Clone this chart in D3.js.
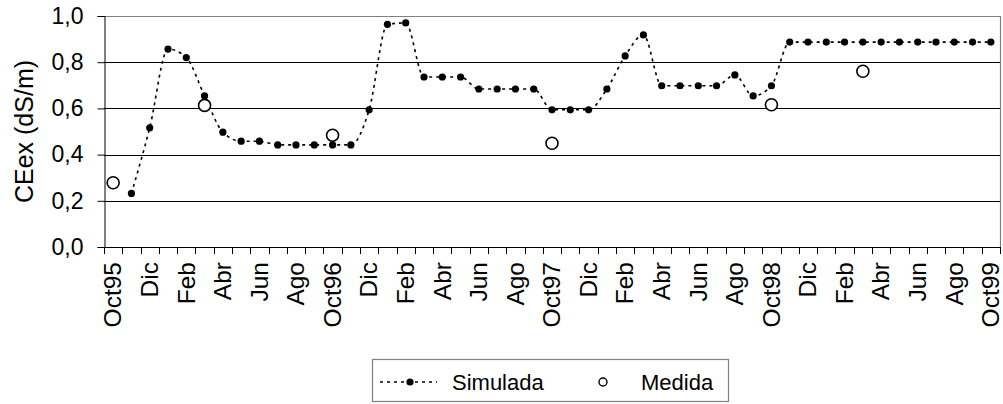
<!DOCTYPE html>
<html>
<head>
<meta charset="utf-8">
<script src="https://cdn.jsdelivr.net/npm/d3@7"></script>
<style>
  html, body { margin: 0; padding: 0; background: #fff; }
  svg { display: block; font-family: "Liberation Sans", Arial, sans-serif; }
</style>
</head>
<body>
<svg id="chart" width="1003" height="404"></svg>
<script>
// ---- data ----
const categories = [
  "Oct95","Nov95","Dic95","Ene96","Feb96","Mar96","Abr96","May96","Jun96","Jul96","Ago96","Sep96",
  "Oct96","Nov96","Dic96","Ene97","Feb97","Mar97","Abr97","May97","Jun97","Jul97","Ago97","Sep97",
  "Oct97","Nov97","Dic97","Ene98","Feb98","Mar98","Abr98","May98","Jun98","Jul98","Ago98","Sep98",
  "Oct98","Nov98","Dic98","Ene99","Feb99","Mar99","Abr99","May99","Jun99","Jul99","Ago99","Sep99",
  "Oct99"
];
const tickLabels = [
  "Oct95","Dic","Feb","Abr","Jun","Ago",
  "Oct96","Dic","Feb","Abr","Jun","Ago",
  "Oct97","Dic","Feb","Abr","Jun","Ago",
  "Oct98","Dic","Feb","Abr","Jun","Ago",
  "Oct99"
];
const simulada = [
  null, 0.232, 0.516, 0.857, 0.820, 0.654, 0.497, 0.458, 0.458, 0.442, 0.442, 0.442,
  0.442, 0.442, 0.594, 0.964, 0.970, 0.736, 0.736, 0.736, 0.684, 0.684, 0.684, 0.684,
  0.594, 0.594, 0.594, 0.684, 0.827, 0.918, 0.698, 0.698, 0.698, 0.698, 0.745, 0.654,
  0.698, 0.887, 0.887, 0.887, 0.887, 0.887, 0.887, 0.887, 0.887, 0.887, 0.887, 0.887,
  0.887
];
const medidaCategories = ["Oct95","Mar96","Oct96","Oct97","Oct98","Mar99"];
const medidaValues = [0.278, 0.613, 0.484, 0.449, 0.616, 0.761];
const yTicks = [0, 0.2, 0.4, 0.6, 0.8, 1.0];
const yTitle = "CEex (dS/m)";
const legendLabels = ["Simulada", "Medida"];

// ---- layout ----
const svg = d3.select("#chart");
const plot = { left: 104, right: 1000, top: 16, bottom: 247 };

const x = d3.scaleBand().domain(categories).range([plot.left, plot.right]).padding(0);
const y = d3.scaleLinear().domain([0, 1]).range([plot.bottom, plot.top]);
const cx = c => x(c) + x.bandwidth() / 2;
const fmt = v => d3.format(".1f")(v).replace(".", ",");

// gridlines
svg.append("g").selectAll("line")
  .data(yTicks.filter(v => v > 0 && v < 1))
  .join("line")
  .attr("x1", plot.left).attr("x2", plot.right)
  .attr("y1", d => Math.round(y(d)) + 0.5).attr("y2", d => Math.round(y(d)) + 0.5)
  .attr("stroke", "#000").attr("stroke-width", 1);

// frame top & right (gray)
svg.append("path")
  .attr("d", `M${plot.left},${plot.top + 0.5}H${plot.right + 0.5}V${plot.bottom}`)
  .attr("fill", "none").attr("stroke", "#808080").attr("stroke-width", 1.2);

// y axis
const yAxis = d3.axisLeft(y).tickValues(yTicks).tickFormat(fmt).tickSize(7).tickPadding(14);
const gy = svg.append("g").attr("transform", `translate(${plot.left + 0.5},0)`).call(yAxis);
gy.select(".domain").attr("stroke", "#000");
gy.selectAll(".tick line").attr("stroke", "#000");
gy.selectAll(".tick text")
  .attr("font-size", 23).attr("fill", "#000")
  .attr("font-family", "'Liberation Sans', Arial, sans-serif");

// x axis line
svg.append("line")
  .attr("x1", plot.left).attr("x2", plot.right + 0.5)
  .attr("y1", plot.bottom + 0.5).attr("y2", plot.bottom + 0.5)
  .attr("stroke", "#000").attr("stroke-width", 1);

// x ticks at category boundaries
const edges = categories.map(c => x(c)).concat([x.range()[1]]);
svg.append("g").selectAll("line")
  .data(edges)
  .join("line")
  .attr("x1", d => Math.round(d) + 0.5).attr("x2", d => Math.round(d) + 0.5)
  .attr("y1", plot.bottom).attr("y2", plot.bottom + 7)
  .attr("stroke", "#000");

// x labels (every other category)
const labeled = categories.filter((c, i) => i % 2 === 0);
svg.append("g").selectAll("text")
  .data(labeled)
  .join("text")
  .attr("transform", d => `translate(${cx(d)},${plot.bottom + 15}) rotate(-90)`)
  .attr("text-anchor", "end")
  .attr("dy", "0.34em")
  .attr("font-size", 24.5)
  .attr("fill", "#000")
  .text((d, i) => tickLabels[i]);

// y title
svg.append("text")
  .attr("transform", `translate(24,${(plot.top + plot.bottom) / 2}) rotate(-90)`)
  .attr("text-anchor", "middle")
  .attr("dy", "0.36em")
  .attr("font-size", 25)
  .attr("fill", "#000")
  .text(yTitle);

// simulated line
const simData = categories.map((c, i) => ({ c, v: simulada[i] })).filter(d => d.v !== null);
const line = d3.line()
  .x(d => cx(d.c)).y(d => y(d.v))
  .curve(d3.curveMonotoneX);
svg.append("path")
  .datum(simData)
  .attr("d", line)
  .attr("fill", "none")
  .attr("stroke", "#000")
  .attr("stroke-width", 1.6)
  .attr("stroke-dasharray", "3,4");
svg.append("g").selectAll("circle")
  .data(simData)
  .join("circle")
  .attr("cx", d => cx(d.c)).attr("cy", d => y(d.v))
  .attr("r", 3.6).attr("fill", "#000");

// measured points
const medData = medidaCategories.map((c, i) => ({ c, v: medidaValues[i] }));
svg.append("g").selectAll("circle")
  .data(medData)
  .join("circle")
  .attr("cx", d => cx(d.c)).attr("cy", d => y(d.v))
  .attr("r", 6).attr("fill", "#fff").attr("stroke", "#000").attr("stroke-width", 1.6);

// legend
const lg = svg.append("g");
lg.append("rect")
  .attr("x", 372.5).attr("y", 359.5).attr("width", 356).attr("height", 42)
  .attr("fill", "#fff").attr("stroke", "#808080").attr("stroke-width", 1.2);
lg.append("line")
  .attr("x1", 380).attr("x2", 437).attr("y1", 382).attr("y2", 382)
  .attr("stroke", "#000").attr("stroke-width", 1.6).attr("stroke-dasharray", "3,4");
lg.append("circle").attr("cx", 410).attr("cy", 382).attr("r", 3.6).attr("fill", "#000");
lg.append("text")
  .attr("x", 452).attr("y", 382).attr("dy", "0.36em")
  .attr("font-size", 22).attr("fill", "#000")
  .text(legendLabels[0]);
lg.append("circle").attr("cx", 603).attr("cy", 382).attr("r", 4)
  .attr("fill", "#fff").attr("stroke", "#000").attr("stroke-width", 1.4);
lg.append("text")
  .attr("x", 641).attr("y", 382).attr("dy", "0.36em")
  .attr("font-size", 22).attr("fill", "#000")
  .text(legendLabels[1]);
</script>
</body>
</html>
